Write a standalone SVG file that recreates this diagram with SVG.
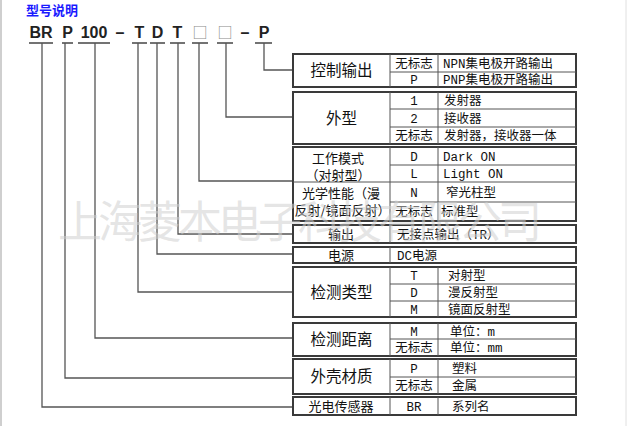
<svg xmlns="http://www.w3.org/2000/svg" width="627" height="426" viewBox="0 0 627 426">
<style>
.bg{fill:#fff}
.frame{fill:none;stroke:#3a3a3a;stroke-width:2}
.div{fill:none;stroke:#555;stroke-width:1}
.con{fill:none;stroke:#555;stroke-width:1.3}
.ul{stroke:#444;stroke-width:1.5}
.code{font-family:"Liberation Sans",Arial,sans-serif;font-weight:bold;font-size:16px;fill:#222;text-anchor:middle}
.sq{font-family:"Noto Sans CJK SC",sans-serif;font-size:15px;fill:#8a8a8a;text-anchor:middle}
.title{font-family:"Noto Sans CJK SC",sans-serif;font-weight:bold;font-size:13px;fill:#1a1aff}
.big{font-family:"Noto Sans CJK SC",sans-serif;font-size:15.5px;fill:#111;text-anchor:middle}
.lab{font-family:"Noto Sans CJK SC",sans-serif;font-size:13px;fill:#111;text-anchor:middle}
.mid{font-family:"Liberation Mono","Noto Sans CJK SC",monospace;font-size:12.5px;fill:#111;text-anchor:middle}
.txt{font-family:"Liberation Mono","Noto Sans CJK SC",monospace;font-size:12.5px;fill:#111}
.wm{font-family:"Noto Sans CJK SC",sans-serif;font-size:44px;fill:#cfcfcf;fill-opacity:0.55}
</style>
<rect class="bg" x="0" y="0" width="627" height="426"/>
<line x1="1" y1="0" x2="1" y2="426" stroke="#cfcfcf" stroke-width="2"/>
<line x1="626" y1="0" x2="626" y2="426" stroke="#e0e0e0" stroke-width="1"/>

<text class="title" x="26" y="15">型号说明</text>

<g id="code">
<text class="code" x="41" y="38">BR</text>
<text class="code" x="67.5" y="38">P</text>
<text class="code" x="94" y="38">100</text>
<text class="code" x="120" y="38">–</text>
<text class="code" x="139.5" y="38">T</text>
<text class="code" x="157.5" y="38">D</text>
<text class="code" x="177.5" y="38">T</text>
<text class="sq" x="200" y="38">□</text>
<text class="sq" x="225" y="38">□</text>
<text class="code" x="245" y="38">–</text>
<text class="code" x="264" y="38">P</text>
<line class="ul" x1="29" y1="43" x2="53" y2="43"/>
<line class="ul" x1="62" y1="43" x2="73" y2="43"/>
<line class="ul" x1="78" y1="43" x2="110" y2="43"/>
<line class="ul" x1="132" y1="43" x2="147" y2="43"/>
<line class="ul" x1="150" y1="43" x2="165" y2="43"/>
<line class="ul" x1="170" y1="43" x2="185" y2="43"/>
<line class="ul" x1="192" y1="43" x2="208" y2="43"/>
<line class="ul" x1="217" y1="43" x2="233" y2="43"/>
<line class="ul" x1="255" y1="43" x2="272" y2="43"/>
</g>

<g id="connectors">
<polyline class="con" points="42,43 42,407 293,407"/>
<polyline class="con" points="65,43 65,378 293,378"/>
<polyline class="con" points="95,43 95,338 293,338"/>
<polyline class="con" points="138,43 138,292 293,292"/>
<polyline class="con" points="157,43 157,254 293,254"/>
<polyline class="con" points="178,43 178,234 293,234"/>
<polyline class="con" points="199,43 199,181 293,181"/>
<polyline class="con" points="226,43 226,117 293,117"/>
<polyline class="con" points="264,43 264,70 293,70"/>
</g>

<g id="n-control">
<rect class="frame" x="293" y="54" width="283" height="33"/>
<line class="div" x1="390" y1="54" x2="390" y2="87"/>
<line class="div" x1="438" y1="54" x2="438" y2="87"/>
<line class="div" x1="390" y1="72" x2="576" y2="72"/>
<text class="big" x="341.5" y="76">控制输出</text>
<text class="mid" x="414" y="67.5">无标志</text>
<text class="mid" x="414" y="84">P</text>
<text class="txt" x="443" y="67.5">NPN集电极开路输出</text>
<text class="txt" x="443" y="84">PNP集电极开路输出</text>
</g>

<g id="n-shape">
<rect class="frame" x="293" y="92" width="283" height="52"/>
<line class="div" x1="390" y1="92" x2="390" y2="144"/>
<line class="div" x1="438" y1="92" x2="438" y2="144"/>
<line class="div" x1="390" y1="109" x2="576" y2="109"/>
<line class="div" x1="390" y1="127" x2="576" y2="127"/>
<text class="big" x="341.5" y="124">外型</text>
<text class="mid" x="414" y="105">1</text>
<text class="mid" x="414" y="122.5">2</text>
<text class="mid" x="414" y="140">无标志</text>
<text class="txt" x="444" y="105">发射器</text>
<text class="txt" x="444" y="122.5">接收器</text>
<text class="txt" x="444" y="140">发射器，接收器一体</text>
</g>

<g id="n-mode">
<rect class="frame" x="293" y="147" width="283" height="74"/>
<line class="div" x1="390" y1="147" x2="390" y2="221"/>
<line class="div" x1="438" y1="147" x2="438" y2="221"/>
<line class="div" x1="390" y1="165" x2="576" y2="165"/>
<line class="div" x1="293" y1="182" x2="576" y2="182"/>
<line class="div" x1="390" y1="202" x2="576" y2="202"/>
<text class="lab" x="338" y="163">工作模式</text>
<text class="lab" x="338" y="180">（对射型）</text>
<text class="lab" x="341" y="198">光学性能（漫</text>
<text class="lab" x="342.5" y="214.5">反射/镜面反射）</text>
<text class="mid" x="414" y="160.5">D</text>
<text class="mid" x="414" y="178">L</text>
<text class="mid" x="414" y="196.5">N</text>
<text class="mid" x="414" y="216">无标志</text>
<text class="txt" x="443" y="160.5">Dark ON</text>
<text class="txt" x="443" y="178">Light ON</text>
<text class="txt" x="446" y="196.5">窄光柱型</text>
<text class="txt" x="441" y="216">标准型</text>
</g>

<g id="n-output">
<rect class="frame" x="293" y="225" width="283" height="18"/>
<line class="div" x1="390" y1="225" x2="390" y2="243"/>
<text class="lab" x="341" y="238.5">输出</text>
<text class="txt" x="397" y="238.5">无接点输出（TR）</text>
</g>

<g id="n-power">
<rect class="frame" x="293" y="247" width="283" height="16"/>
<line class="div" x1="390" y1="247" x2="390" y2="263"/>
<text class="lab" x="341" y="259.5">电源</text>
<text class="txt" x="397" y="259.5">DC电源</text>
</g>

<g id="n-detect">
<rect class="frame" x="293" y="267" width="283" height="50"/>
<line class="div" x1="390" y1="267" x2="390" y2="317"/>
<line class="div" x1="438" y1="267" x2="438" y2="317"/>
<line class="div" x1="390" y1="284" x2="576" y2="284"/>
<line class="div" x1="390" y1="301" x2="576" y2="301"/>
<text class="big" x="341.5" y="297.5">检测类型</text>
<text class="mid" x="414" y="280">T</text>
<text class="mid" x="414" y="297">D</text>
<text class="mid" x="414" y="313.5">M</text>
<text class="txt" x="448" y="280">对射型</text>
<text class="txt" x="448" y="297">漫反射型</text>
<text class="txt" x="448" y="313.5">镜面反射型</text>
</g>

<g id="n-distance">
<rect class="frame" x="293" y="323" width="283" height="33"/>
<line class="div" x1="390" y1="323" x2="390" y2="356"/>
<line class="div" x1="438" y1="323" x2="438" y2="356"/>
<line class="div" x1="390" y1="339" x2="576" y2="339"/>
<text class="big" x="341.5" y="345">检测距离</text>
<text class="mid" x="414" y="335.5">M</text>
<text class="mid" x="414" y="352">无标志</text>
<text class="txt" x="450" y="335.5">单位：m</text>
<text class="txt" x="450" y="352">单位：mm</text>
</g>

<g id="n-housing">
<rect class="frame" x="293" y="359" width="283" height="35"/>
<line class="div" x1="390" y1="359" x2="390" y2="394"/>
<line class="div" x1="438" y1="359" x2="438" y2="394"/>
<line class="div" x1="390" y1="377" x2="576" y2="377"/>
<text class="big" x="341.5" y="382">外壳材质</text>
<text class="mid" x="414" y="372.5">P</text>
<text class="mid" x="414" y="390">无标志</text>
<text class="txt" x="452" y="372.5">塑料</text>
<text class="txt" x="452" y="390">金属</text>
</g>

<g id="n-series">
<rect class="frame" x="293" y="397" width="283" height="18"/>
<line class="div" x1="390" y1="397" x2="390" y2="415"/>
<line class="div" x1="438" y1="397" x2="438" y2="415"/>
<text class="lab" x="341" y="410.5">光电传感器</text>
<text class="mid" x="414" y="410.5">BR</text>
<text class="txt" x="452" y="410.5">系列名</text>
</g>

<text class="wm" x="58" y="238" textLength="484" lengthAdjust="spacing">上海菱本电子科技有限公司</text>
</svg>
